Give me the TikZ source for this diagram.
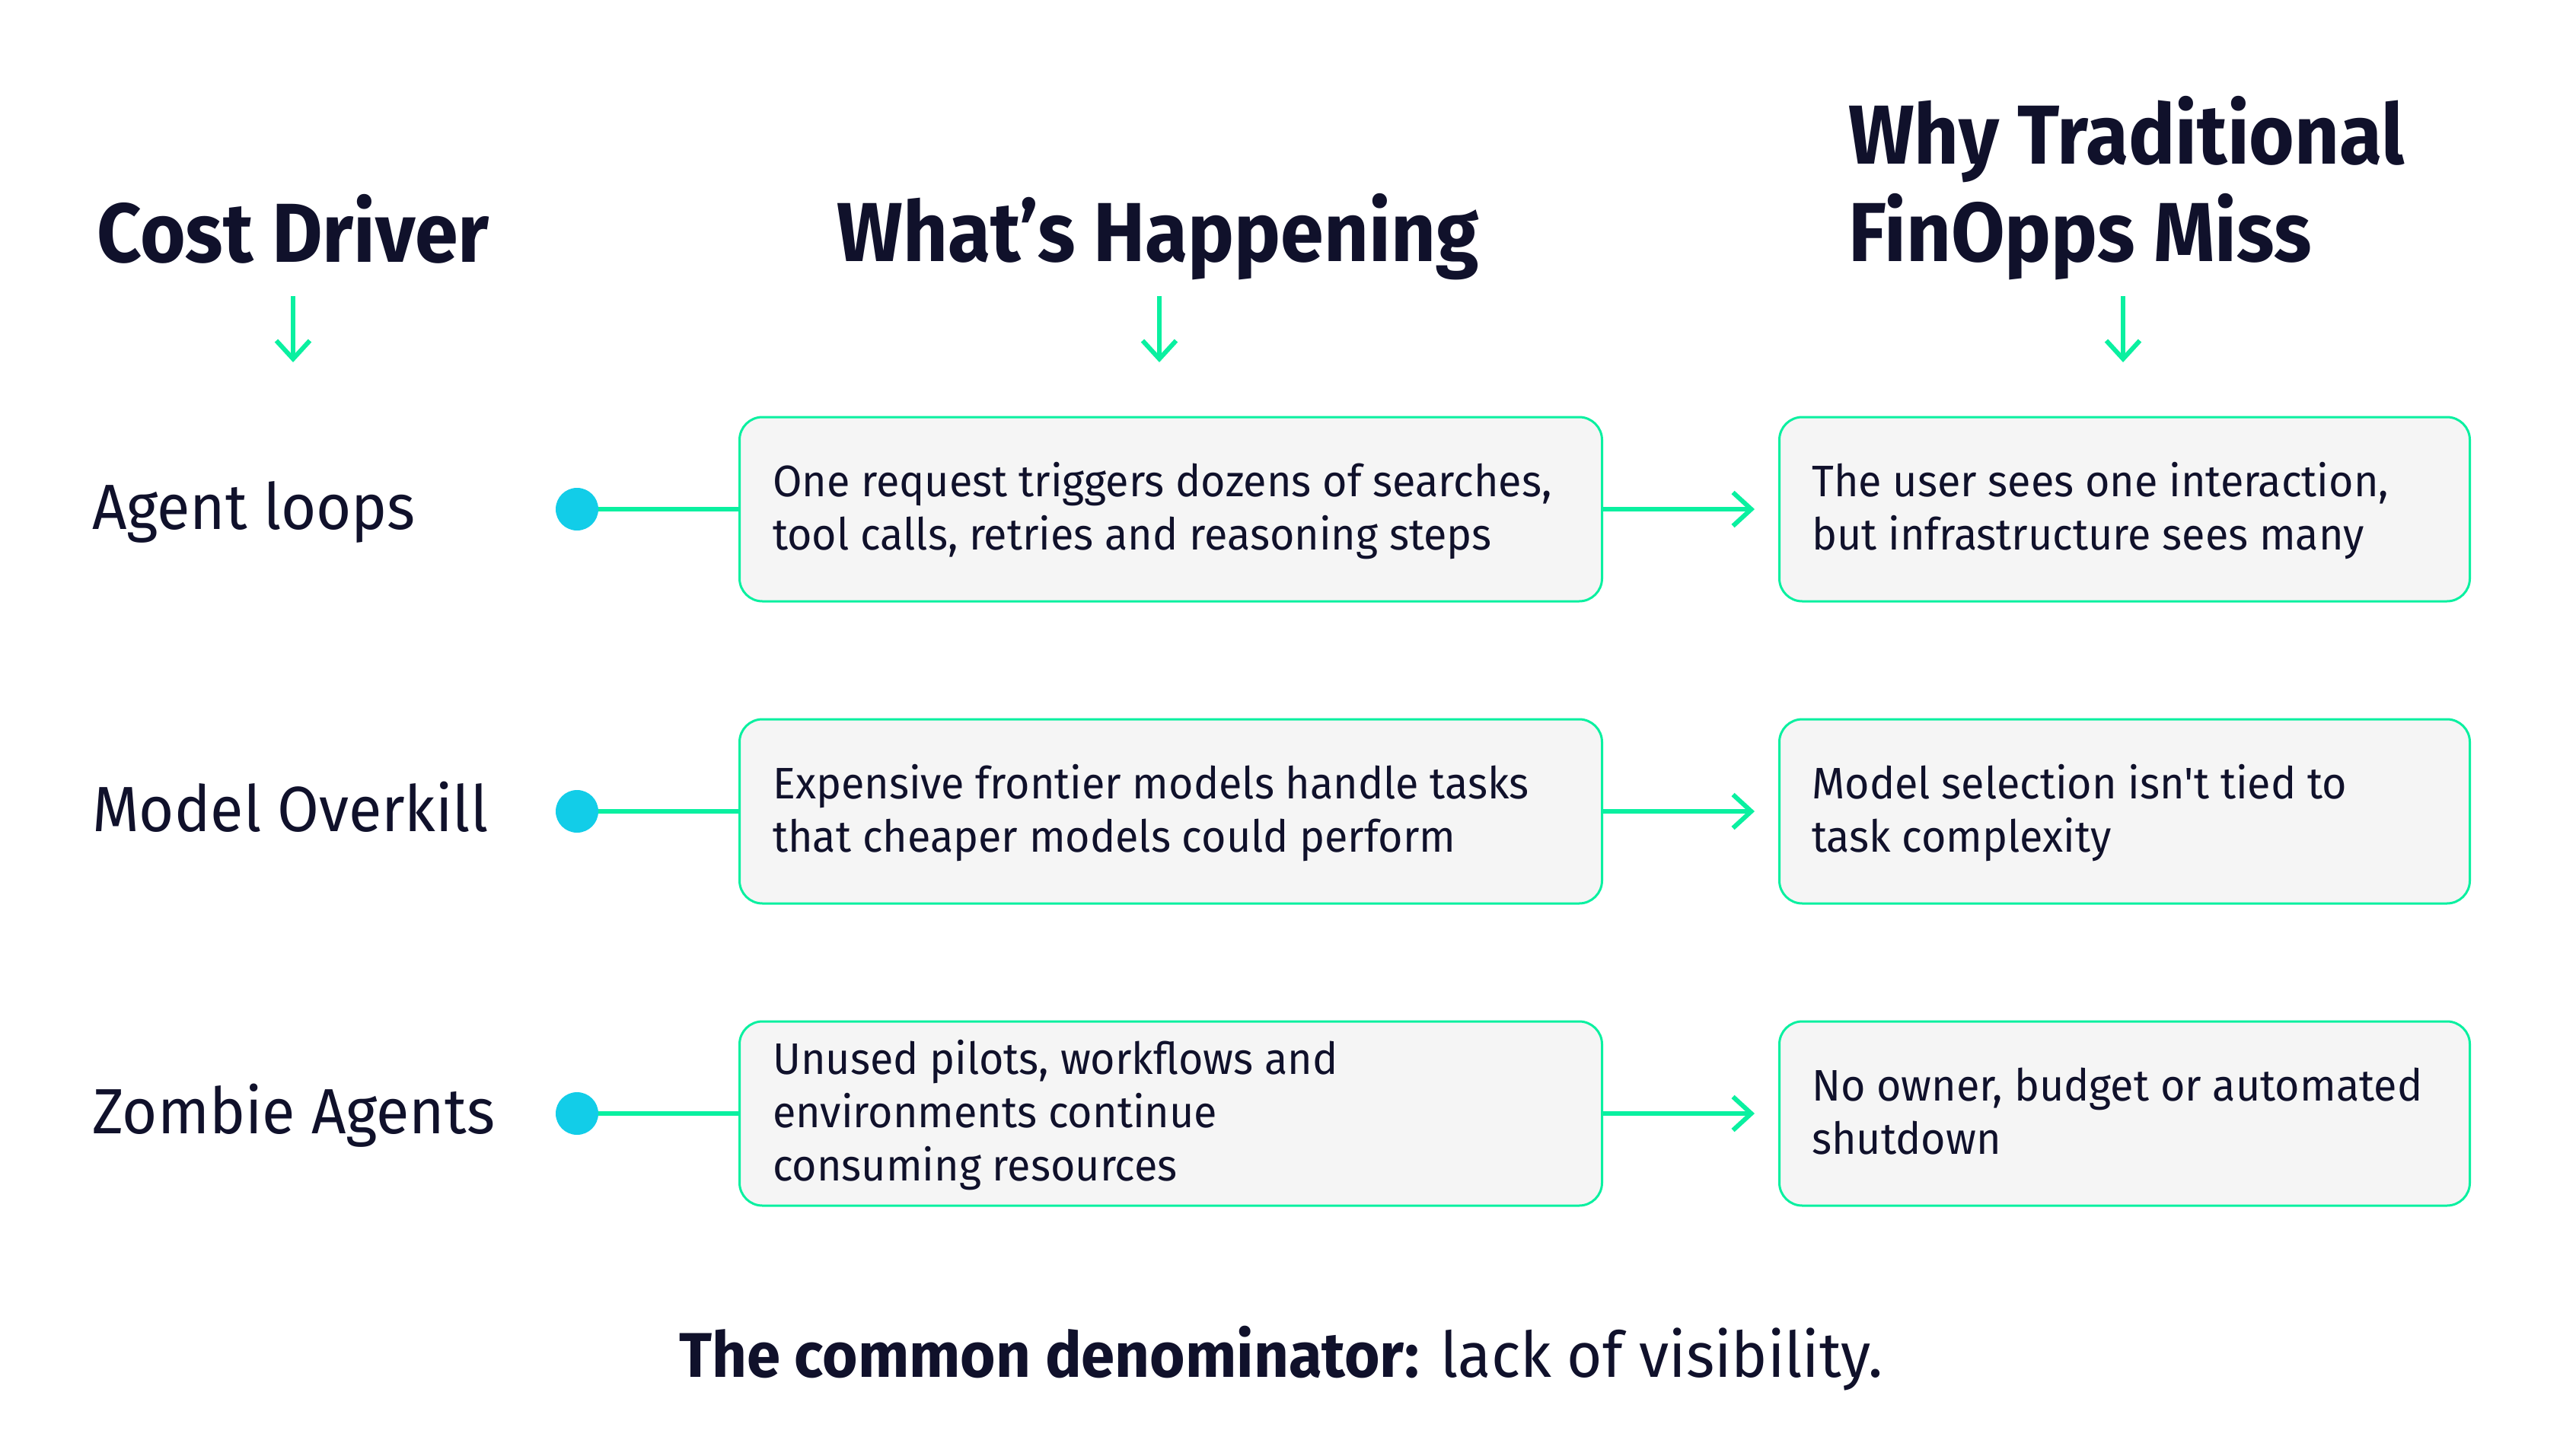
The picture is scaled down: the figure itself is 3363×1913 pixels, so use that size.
\documentclass[tikz,border=0pt]{standalone}
\usepackage{fontspec}
\setmainfont{Fira Sans}
\newfontfamily\bodyfont[FakeStretch=0.96]{Fira Sans}
\newfontfamily\labelfont[FakeStretch=0.945]{Fira Sans}
\newfontfamily\headfont[FakeStretch=0.93]{Fira Sans}
\usetikzlibrary{arrows.meta,calc}
\definecolor{ink}{HTML}{10112B}
\definecolor{mint}{HTML}{0AF0A0}
\definecolor{dotc}{HTML}{12CDE8}
\definecolor{boxfill}{HTML}{F5F5F5}
\begin{document}
\begin{tikzpicture}[x=1pt,y=1pt,
  head/.style={font=\headfont\bfseries\fontsize{110}{128}\selectfont, text=ink, inner sep=0pt},
  rowlabel/.style={font=\labelfont\fontsize{84}{100}\selectfont, text=ink, inner sep=0pt, anchor=base west},
  card/.style={draw=mint, line width=3pt, fill=boxfill, rounded corners=30pt, minimum height=242pt, inner sep=0pt},
  cardtext/.style={font=\bodyfont\fontsize{58}{70}\selectfont, text=ink, inner sep=0pt, align=left, anchor=base west},
  link/.style={draw=mint, line width=6pt},
  flow/.style={link, -{Straight Barb[length=24pt, width=44pt]}},
  dot/.style={circle, fill=dotc, minimum size=56pt, inner sep=0pt},
  foot/.style={font=\bodyfont\fontsize{83}{100}\selectfont, text=ink, inner sep=0pt, anchor=base}
]
\fill[white] (0,0) rectangle (3363,-1913);
\useasboundingbox (0,0) rectangle (3363,-1913);

% headers
\node[head, anchor=base] (h1) at (385,-344) {Cost Driver};
\node[head, anchor=base] (h2) at (1521,-343) {What’s Happening};
\node[head, anchor=base west, align=left] (h3) at (2428,-343) {Why Traditional\\FinOpps Miss};

\coordinate (u1) at (385,-389);  \coordinate (d1) at (385,-476);
\coordinate (u2) at (1523,-389); \coordinate (d2) at (1523,-476);
\coordinate (u3) at (2789,-389); \coordinate (d3) at (2789,-476);
\draw[flow] (u1) -- (d1);
\draw[flow] (u2) -- (d2);
\draw[flow] (u3) -- (d3);

% rows
\foreach \i/\y in {1/669, 2/1066, 3/1463}{
  \node[dot] (p\i) at (758,-\y) {};
  \node[card, minimum width=1133pt, anchor=west] (w\i) at (970,-\y) {};
  \node[card, minimum width=907pt, anchor=west] (m\i) at (2336,-\y) {};
  \coordinate (t\i) at (2305,-\y);
  \draw[link] (p\i) -- (w\i);
  \draw[flow] (w\i) -- (t\i);
}

\node[rowlabel] (l1) at (121,-695) {Agent loops};
\node[rowlabel] (l2) at (121,-1092) {Model Overkill};
\node[rowlabel] (l3) at (121,-1489) {Zombie Agents};

\node[cardtext] (wt1) at (1015,-722) {One request triggers dozens of searches,\\tool calls, retries and reasoning steps};
\node[cardtext] (mt1) at (2380,-722) {The user sees one interaction,\\but infrastructure sees many};
\node[cardtext] (wt2) at (1015,-1119) {Expensive frontier models handle tasks\\that cheaper models could perform};
\node[cardtext] (mt2) at (2380,-1119) {Model selection isn't tied to\\task complexity};
\node[cardtext] (wt3) at (1015,-1551) {Unused pilots, workflows and\\environments continue\\consuming resources};
\node[cardtext] (mt3) at (2380,-1516) {No owner, budget or automated\\shutdown};

\node[foot] (ft) at (1683,-1809) {{\bfseries The common denominator:} lack of visibility.};
\end{tikzpicture}
\end{document}
